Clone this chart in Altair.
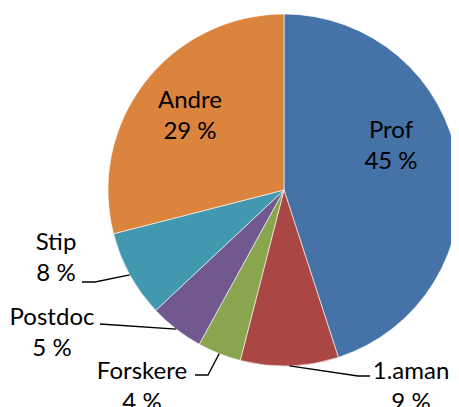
import math
import altair as alt
import pandas as pd

# ---- data ----
categories = ["Prof", "1.aman", "Forskere", "Postdoc", "Stip", "Andre"]
values = [45, 9, 4, 5, 8, 29]
colors = ["#4572A7", "#AA4643", "#89A54E", "#71588F", "#4198AF", "#DB843D"]

# ---- layout (page pixels) ----
M = 8
CX, CY, R = 284 - M, 190 - M, 176
LH = 31
# label block centres
label_pos = {
    "Prof": (391, 146), "1.aman": (411, 387), "Forskere": (142, 387),
    "Postdoc": (52, 333), "Stip": (56, 258), "Andre": (190, 116),
}
# leader elbow points (from label side towards the pie edge)
leader_pts = {
    "Stip": [(82, 282), (95, 282)],
    "Postdoc": [(100, 324)],
    "Forskere": [(195, 375), (208, 375)],
    "1.aman": [(370, 376), (358, 376)],
}

total = sum(values)
df = pd.DataFrame({"cat": categories, "value": values, "idx": range(len(values))})

# mid angles (clockwise from 12 o'clock)
mids = {}
cum = 0
for c, v in zip(categories, values):
    mids[c] = (cum + v / 2) / total * 2 * math.pi
    cum += v

lab = pd.DataFrame({
    "cat": categories,
    "text": [f"{c}\n{v} %" for c, v in zip(categories, values)],
    "x": [label_pos[c][0] - M for c in categories],
    "y": [label_pos[c][1] - M - LH / 2 for c in categories],
})

rows = []
for c, pts in leader_pts.items():
    seq = 0
    for (px, py) in pts:
        rows.append({"cat": c, "seq": seq, "x": px - M, "y": py - M})
        seq += 1
    a = mids[c]
    rows.append({"cat": c, "seq": seq, "x": CX + R * math.sin(a), "y": CY - R * math.cos(a)})
lead = pd.DataFrame(rows)

pie = alt.Chart(df).mark_arc(outerRadius=R, stroke="white", strokeWidth=0.6).encode(
    theta=alt.Theta("value:Q", stack=True),
    color=alt.Color("cat:N", scale=alt.Scale(domain=categories, range=colors), legend=None),
    order=alt.Order("idx:Q"),
    x=alt.value(CX),
    y=alt.value(CY),
)

lines = alt.Chart(lead).mark_line(color="black", strokeWidth=1.3).encode(
    x=alt.X("x:Q", scale=None, axis=None),
    y=alt.Y("y:Q", scale=None, axis=None),
    detail="cat:N",
    order="seq:Q",
)

texts = alt.Chart(lab).mark_text(
    font="Lato", fontSize=24, lineBreak="\n", lineHeight=LH,
    align="center", baseline="middle", color="black",
).encode(
    x=alt.X("x:Q", scale=None, axis=None),
    y=alt.Y("y:Q", scale=None, axis=None),
    text="text:N",
)

chart = alt.layer(pie, lines, texts).properties(
    width=443, height=399, padding=0, autosize="none"
).configure_view(stroke=None)

chart.save("out.html", embed_options={"renderer": "svg", "actions": False})
